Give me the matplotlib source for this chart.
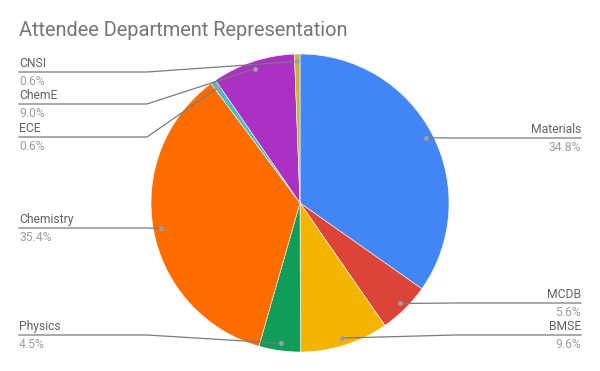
import numpy as np
import matplotlib.pyplot as plt

# data (clockwise from 12 o'clock)
departments = ['Materials', 'MCDB', 'BMSE', 'Physics', 'Chemistry', 'ECE', 'ChemE', 'CNSI']
shares = [34.8, 5.6, 9.6, 4.5, 35.4, 0.6, 9.0, 0.6]
colors = ['#4285F4', '#DB4437', '#F4B400', '#0F9D58', '#FF6D01', '#46BDC6', '#AB30C4', '#C9B72A']

# label layout: side and y of the underline (pixels from top)
label_side = ['right', 'right', 'right', 'left', 'left', 'left', 'left', 'left']
label_y = [138, 303, 335, 335, 228, 137, 104, 72]

W, H = 600, 371
cx, cy, r = 300, H - 203, 149

plt.rcParams['font.family'] = ['Roboto', 'DejaVu Sans']

fig = plt.figure(figsize=(6, 3.71), dpi=100)
ax = fig.add_axes([0, 0, 1, 1])

wedges, _ = ax.pie(shares, colors=colors, startangle=90, counterclock=False,
                   center=(cx, cy), radius=r,
                   wedgeprops=dict(linewidth=0.4, edgecolor='white'))
ax.set_xlim(0, W)
ax.set_ylim(0, H)
ax.axis('off')

for w, name, val, side, ly in zip(wedges, departments, shares, label_side, label_y):
    t = np.deg2rad((w.theta1 + w.theta2) / 2)
    px = cx + 0.95 * r * np.cos(t)
    py = cy + 0.95 * r * np.sin(t)
    y = H - ly
    if side == 'left':
        x0, elbow = 19, min(147, px)
        ha = 'left'
    else:
        x0, elbow = 581, max(455, px)
        ha = 'right'
    ax.plot([x0, elbow, px], [y, y, py], color='#7a7a7a', lw=0.9, zorder=3)
    ax.plot(px, py, 'o', ms=3.5, color='#9e9e9e', mec='none', zorder=4)
    ax.text(x0, y + 2, name, ha=ha, va='bottom', fontsize=8.7, color='#616161')
    ax.text(x0, y - 3, f'{val:.1f}%', ha=ha, va='top', fontsize=8.7, color='#9e9e9e')

ax.text(19, H - 30, 'Attendee Department Representation', ha='left', va='center',
        fontsize=14.4, color='#757575')

fig.savefig('out.png', dpi=100)
